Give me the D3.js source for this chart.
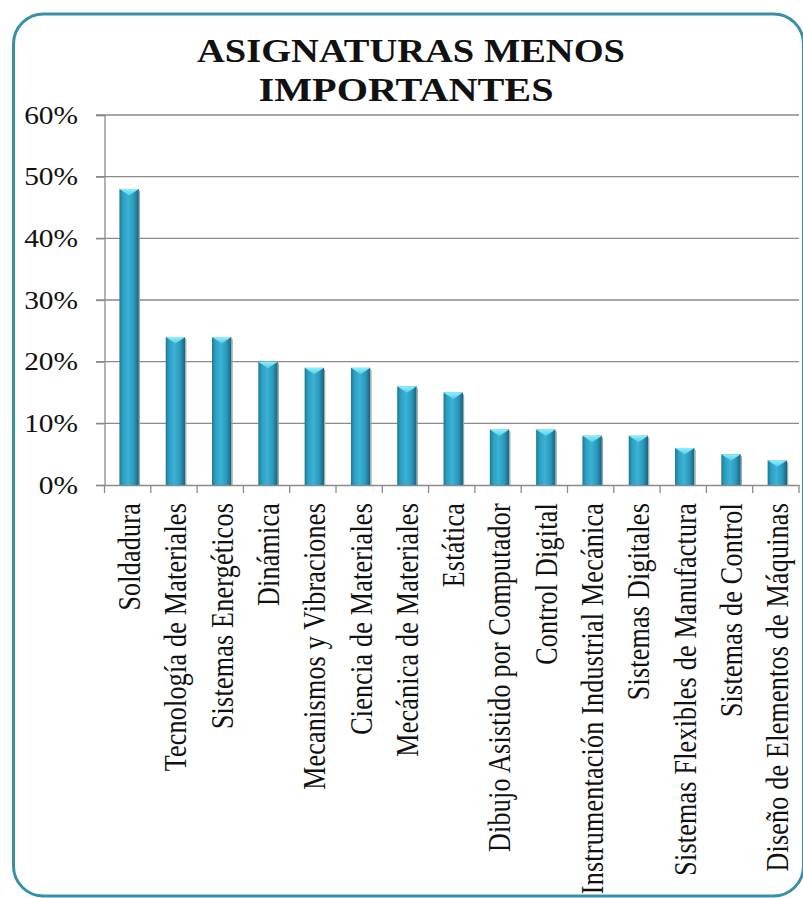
<!DOCTYPE html>
<html>
<head>
<meta charset="utf-8">
<script src="https://cdn.jsdelivr.net/npm/d3@7/dist/d3.min.js"></script>
<style>
  html, body { margin: 0; padding: 0; background: #fff; }
  svg { display: block; }
</style>
</head>
<body>
<svg id="chart" width="803" height="898"></svg>
<script>
// Subjects rated least important, share of responses
const categories = [
  "Soldadura",
  "Tecnología de Materiales",
  "Sistemas Energéticos",
  "Dinámica",
  "Mecanismos y Vibraciones",
  "Ciencia de Materiales",
  "Mecánica de Materiales",
  "Estática",
  "Dibujo Asistido por Computador",
  "Control Digital",
  "Instrumentación Industrial Mecánica",
  "Sistemas Digitales",
  "Sistemas Flexibles de Manufactura",
  "Sistemas de Control",
  "Diseño de Elementos de Máquinas"
];
const values = [0.48, 0.24, 0.24, 0.20, 0.19, 0.19, 0.16, 0.15, 0.09, 0.09, 0.08, 0.08, 0.06, 0.05, 0.04];
const yTicks = [0, 0.1, 0.2, 0.3, 0.4, 0.5, 0.6];
const titleLines = ["ASIGNATURAS MENOS", "IMPORTANTES"];

const svg = d3.select("#chart");
const serif = "'Liberation Serif', 'Times New Roman', serif";
const stretch = 1.2; // horizontal widening of the lettering

// Frame
svg.append("rect")
  .attr("x", 13.5).attr("y", 14)
  .attr("width", 790).attr("height", 882)
  .attr("rx", 30).attr("ry", 30)
  .attr("fill", "#fff")
  .attr("stroke", "#3a8fa8")
  .attr("stroke-width", 3);

// Title
const titleY = [62, 101];
const titleW = [428, 295];
const titleX = [411, 406];
titleLines.forEach((t, i) => {
  svg.append("text")
    .attr("x", titleX[i]).attr("y", titleY[i])
    .attr("text-anchor", "middle")
    .attr("font-family", serif)
    .attr("font-weight", "bold")
    .attr("font-size", 33)
    .attr("textLength", titleW[i])
    .attr("lengthAdjust", "spacingAndGlyphs")
    .attr("fill", "#111")
    .text(t);
});

// Scales
const x = d3.scaleBand()
  .domain(categories)
  .range([104.5, 799])
  .paddingInner(0.58)
  .paddingOuter(0.29);

const y = d3.scaleLinear()
  .domain([0, 0.6])
  .range([485, 115]);

// Gridlines
svg.append("g")
  .selectAll("line")
  .data(yTicks.filter(d => d > 0))
  .join("line")
  .attr("x1", 96).attr("x2", 799)
  .attr("y1", d => y(d)).attr("y2", d => y(d))
  .attr("stroke", "#8a8a8a")
  .attr("stroke-width", 1.3);

// Y axis
const yAxis = svg.append("g")
  .attr("transform", "translate(104.5,0)")
  .call(d3.axisLeft(y).tickValues(yTicks).tickSize(8.5).tickFormat(""));
yAxis.select(".domain").attr("stroke", "#8a8a8a").attr("stroke-width", 1.3);
yAxis.selectAll(".tick line").attr("stroke", "#8a8a8a").attr("stroke-width", 1.3);

svg.append("g")
  .selectAll("text")
  .data(yTicks)
  .join("text")
  .attr("transform", d => `translate(78,${y(d)}) scale(${stretch},1)`)
  .attr("text-anchor", "end")
  .attr("dy", "0.35em")
  .attr("font-family", serif)
  .attr("font-size", 24.5)
  .attr("fill", "#111")
  .text(d3.format(".0%"));

// X axis
const xAxis = svg.append("g")
  .attr("transform", "translate(0,485)")
  .call(d3.axisBottom(x).tickSize(0).tickFormat(""));
xAxis.select(".domain").attr("stroke", "#8a8a8a").attr("stroke-width", 1.3);

// Category boundary ticks
const step = x.step();
svg.append("g")
  .selectAll("line")
  .data(d3.range(categories.length + 1))
  .join("line")
  .attr("x1", i => 104.5 + i * step).attr("x2", i => 104.5 + i * step)
  .attr("y1", 485).attr("y2", 493)
  .attr("stroke", "#8a8a8a")
  .attr("stroke-width", 1.3);

// Bar shading
const defs = svg.append("defs");
const grad = defs.append("linearGradient")
  .attr("id", "barGrad")
  .attr("x1", "0").attr("x2", "1").attr("y1", "0").attr("y2", "0");
[
  [0, "#1d7892"],
  [0.18, "#2d9fc2"],
  [0.45, "#3bb2d6"],
  [0.75, "#2b98ba"],
  [1, "#17637b"]
].forEach(([o, c]) => grad.append("stop").attr("offset", o).attr("stop-color", c));

const capGrad = defs.append("linearGradient")
  .attr("id", "capGrad")
  .attr("x1", "0").attr("x2", "0").attr("y1", "0").attr("y2", "1");
capGrad.append("stop").attr("offset", 0).attr("stop-color", "#8ff0fb");
capGrad.append("stop").attr("offset", 1).attr("stop-color", "#55cbe4");

const bars = svg.append("g")
  .selectAll("g")
  .data(categories.map((c, i) => ({ c, v: values[i] })))
  .join("g");

bars.append("rect")
  .attr("x", d => x(d.c) + 1.5)
  .attr("y", d => y(d.v))
  .attr("width", x.bandwidth())
  .attr("height", d => y(0) - y(d.v))
  .attr("fill", "url(#barGrad)");

// Slight shadow along the right edge
bars.append("rect")
  .attr("x", d => x(d.c) + 1.5 + x.bandwidth())
  .attr("y", d => y(d.v) + 2)
  .attr("width", 1.2)
  .attr("height", d => y(0) - y(d.v) - 2)
  .attr("fill", "#9aa6aa");

// Pyramid-style cap on top of each bar
bars.append("path")
  .attr("d", d => {
    const x0 = x(d.c) + 1.5, x1 = x0 + x.bandwidth(), xc = (x0 + x1) / 2, t = y(d.v);
    return `M${x0},${t}L${x1},${t}L${xc},${t + 6.5}Z`;
  })
  .attr("fill", "url(#capGrad)");

// Category labels, rotated
svg.append("g")
  .selectAll("text")
  .data(categories)
  .join("text")
  .attr("transform", d => `translate(${x(d) + x.bandwidth() / 2 + 1.5},503) scale(${stretch},1) rotate(-90)`)
  .attr("text-anchor", "end")
  .attr("dy", "0.35em")
  .attr("font-family", serif)
  .attr("font-size", 26)
  .attr("letter-spacing", 0.25)
  .attr("fill", "#111")
  .text(d => d);
</script>
</body>
</html>
